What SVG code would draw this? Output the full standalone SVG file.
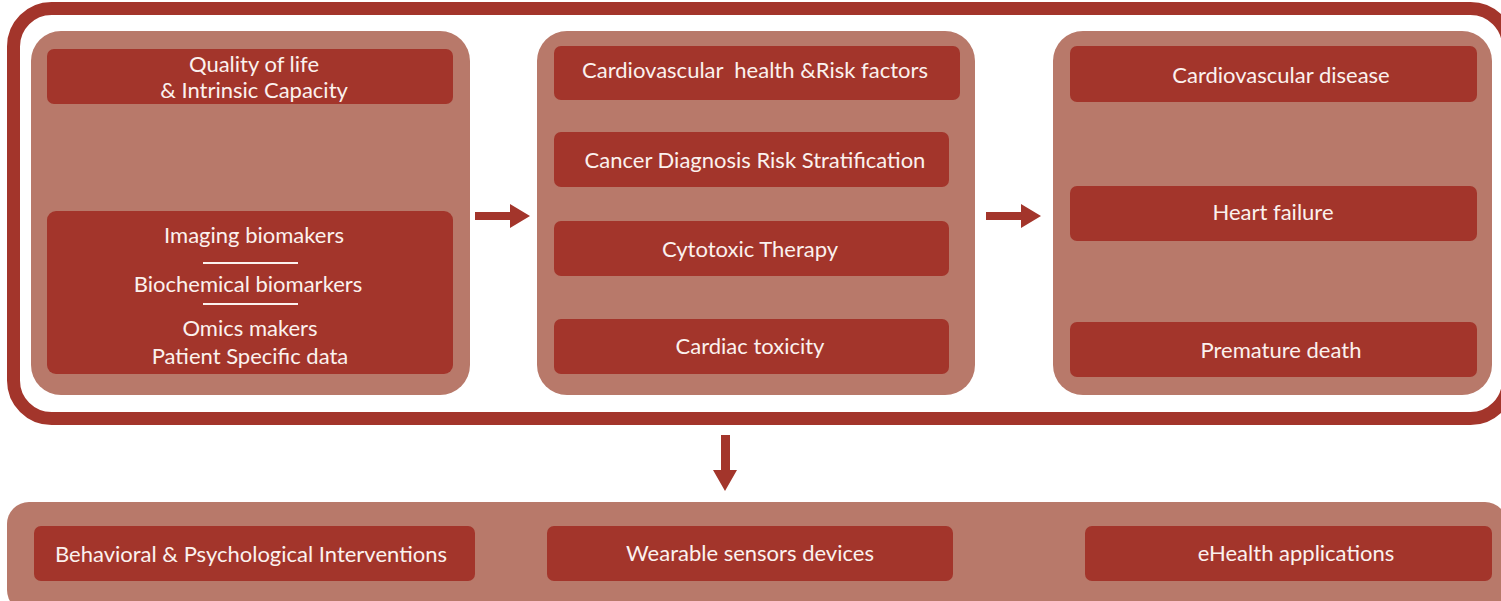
<svg xmlns="http://www.w3.org/2000/svg" width="1501" height="601" viewBox="0 0 1501 601">
<style>
.panel{fill:#b8796a}
.box{fill:#a3352b}
.t{font-family:Lato,"Open Sans","Liberation Sans",sans-serif;font-size:22px;fill:#fbf1ee;text-anchor:middle}
.sep{stroke:#fbf1ee;stroke-width:2}
.arr{fill:#a3352b}
</style>
<rect id="frame" x="13.5" y="8.5" width="1495" height="410" rx="38" fill="none" stroke="#a3352b" stroke-width="13"/>
<g id="panel1">
<rect class="panel" x="31" y="31" width="439" height="364" rx="30"/>
<g id="qol"><rect class="box" x="47" y="49" width="406" height="55" rx="7"/>
<text class="t" x="254" y="72">Quality of life</text>
<text class="t" x="254" y="98">&amp; Intrinsic Capacity</text></g>
<g id="biomarkers"><rect class="box" x="47" y="211" width="406" height="163" rx="9"/>
<text class="t" x="254" y="243">Imaging biomakers</text>
<line class="sep" x1="203" y1="263" x2="298" y2="263"/>
<text class="t" x="248" y="292">Biochemical biomarkers</text>
<line class="sep" x1="203" y1="304" x2="298" y2="304"/>
<text class="t" x="250" y="336">Omics makers</text>
<text class="t" x="250" y="364">Patient Specific data</text></g>
</g>
<g id="panel2">
<rect class="panel" x="537" y="31" width="438" height="364" rx="30"/>
<g id="cvh"><rect class="box" x="554" y="46" width="406" height="54" rx="7"/>
<text class="t" x="755" y="78" xml:space="preserve">Cardiovascular  health &amp;Risk factors</text></g>
<g id="cancer"><rect class="box" x="554" y="132" width="395" height="55" rx="7"/>
<text class="t" x="755" y="168">Cancer Diagnosis Risk Stratification</text></g>
<g id="cyto"><rect class="box" x="554" y="221" width="395" height="55" rx="7"/>
<text class="t" x="750" y="257">Cytotoxic Therapy</text></g>
<g id="cardtox"><rect class="box" x="554" y="319" width="395" height="55" rx="7"/>
<text class="t" x="750" y="354">Cardiac toxicity</text></g>
</g>
<g id="panel3">
<rect class="panel" x="1053" y="31" width="439" height="364" rx="30"/>
<g id="cvd"><rect class="box" x="1070" y="46" width="407" height="56" rx="7"/>
<text class="t" x="1281" y="83">Cardiovascular disease</text></g>
<g id="hf"><rect class="box" x="1070" y="186" width="407" height="55" rx="7"/>
<text class="t" x="1273" y="220">Heart failure</text></g>
<g id="pd"><rect class="box" x="1070" y="322" width="407" height="55" rx="7"/>
<text class="t" x="1281" y="358">Premature death</text></g>
</g>
<g id="bottom">
<rect class="panel" x="7" y="502" width="1500" height="110" rx="22"/>
<g id="behav"><rect class="box" x="34" y="526" width="441" height="55" rx="7"/>
<text class="t" x="251" y="562">Behavioral &amp; Psychological Interventions</text></g>
<g id="wear"><rect class="box" x="547" y="526" width="406" height="55" rx="7"/>
<text class="t" x="750" y="561">Wearable sensors devices</text></g>
<g id="ehealth"><rect class="box" x="1085" y="526" width="407" height="55" rx="7"/>
<text class="t" x="1296" y="561">eHealth applications</text></g>
</g>
<g id="connectors">
<polygon class="arr" points="475,212 510,212 510,204 530,216 510,228 510,220 475,220"/>
<polygon class="arr" points="986,212 1021,212 1021,204 1041,216 1021,228 1021,220 986,220"/>
<polygon class="arr" points="721,435 730,435 730,470 737,470 725,491 713,470 721,470"/>
</g>
</svg>
